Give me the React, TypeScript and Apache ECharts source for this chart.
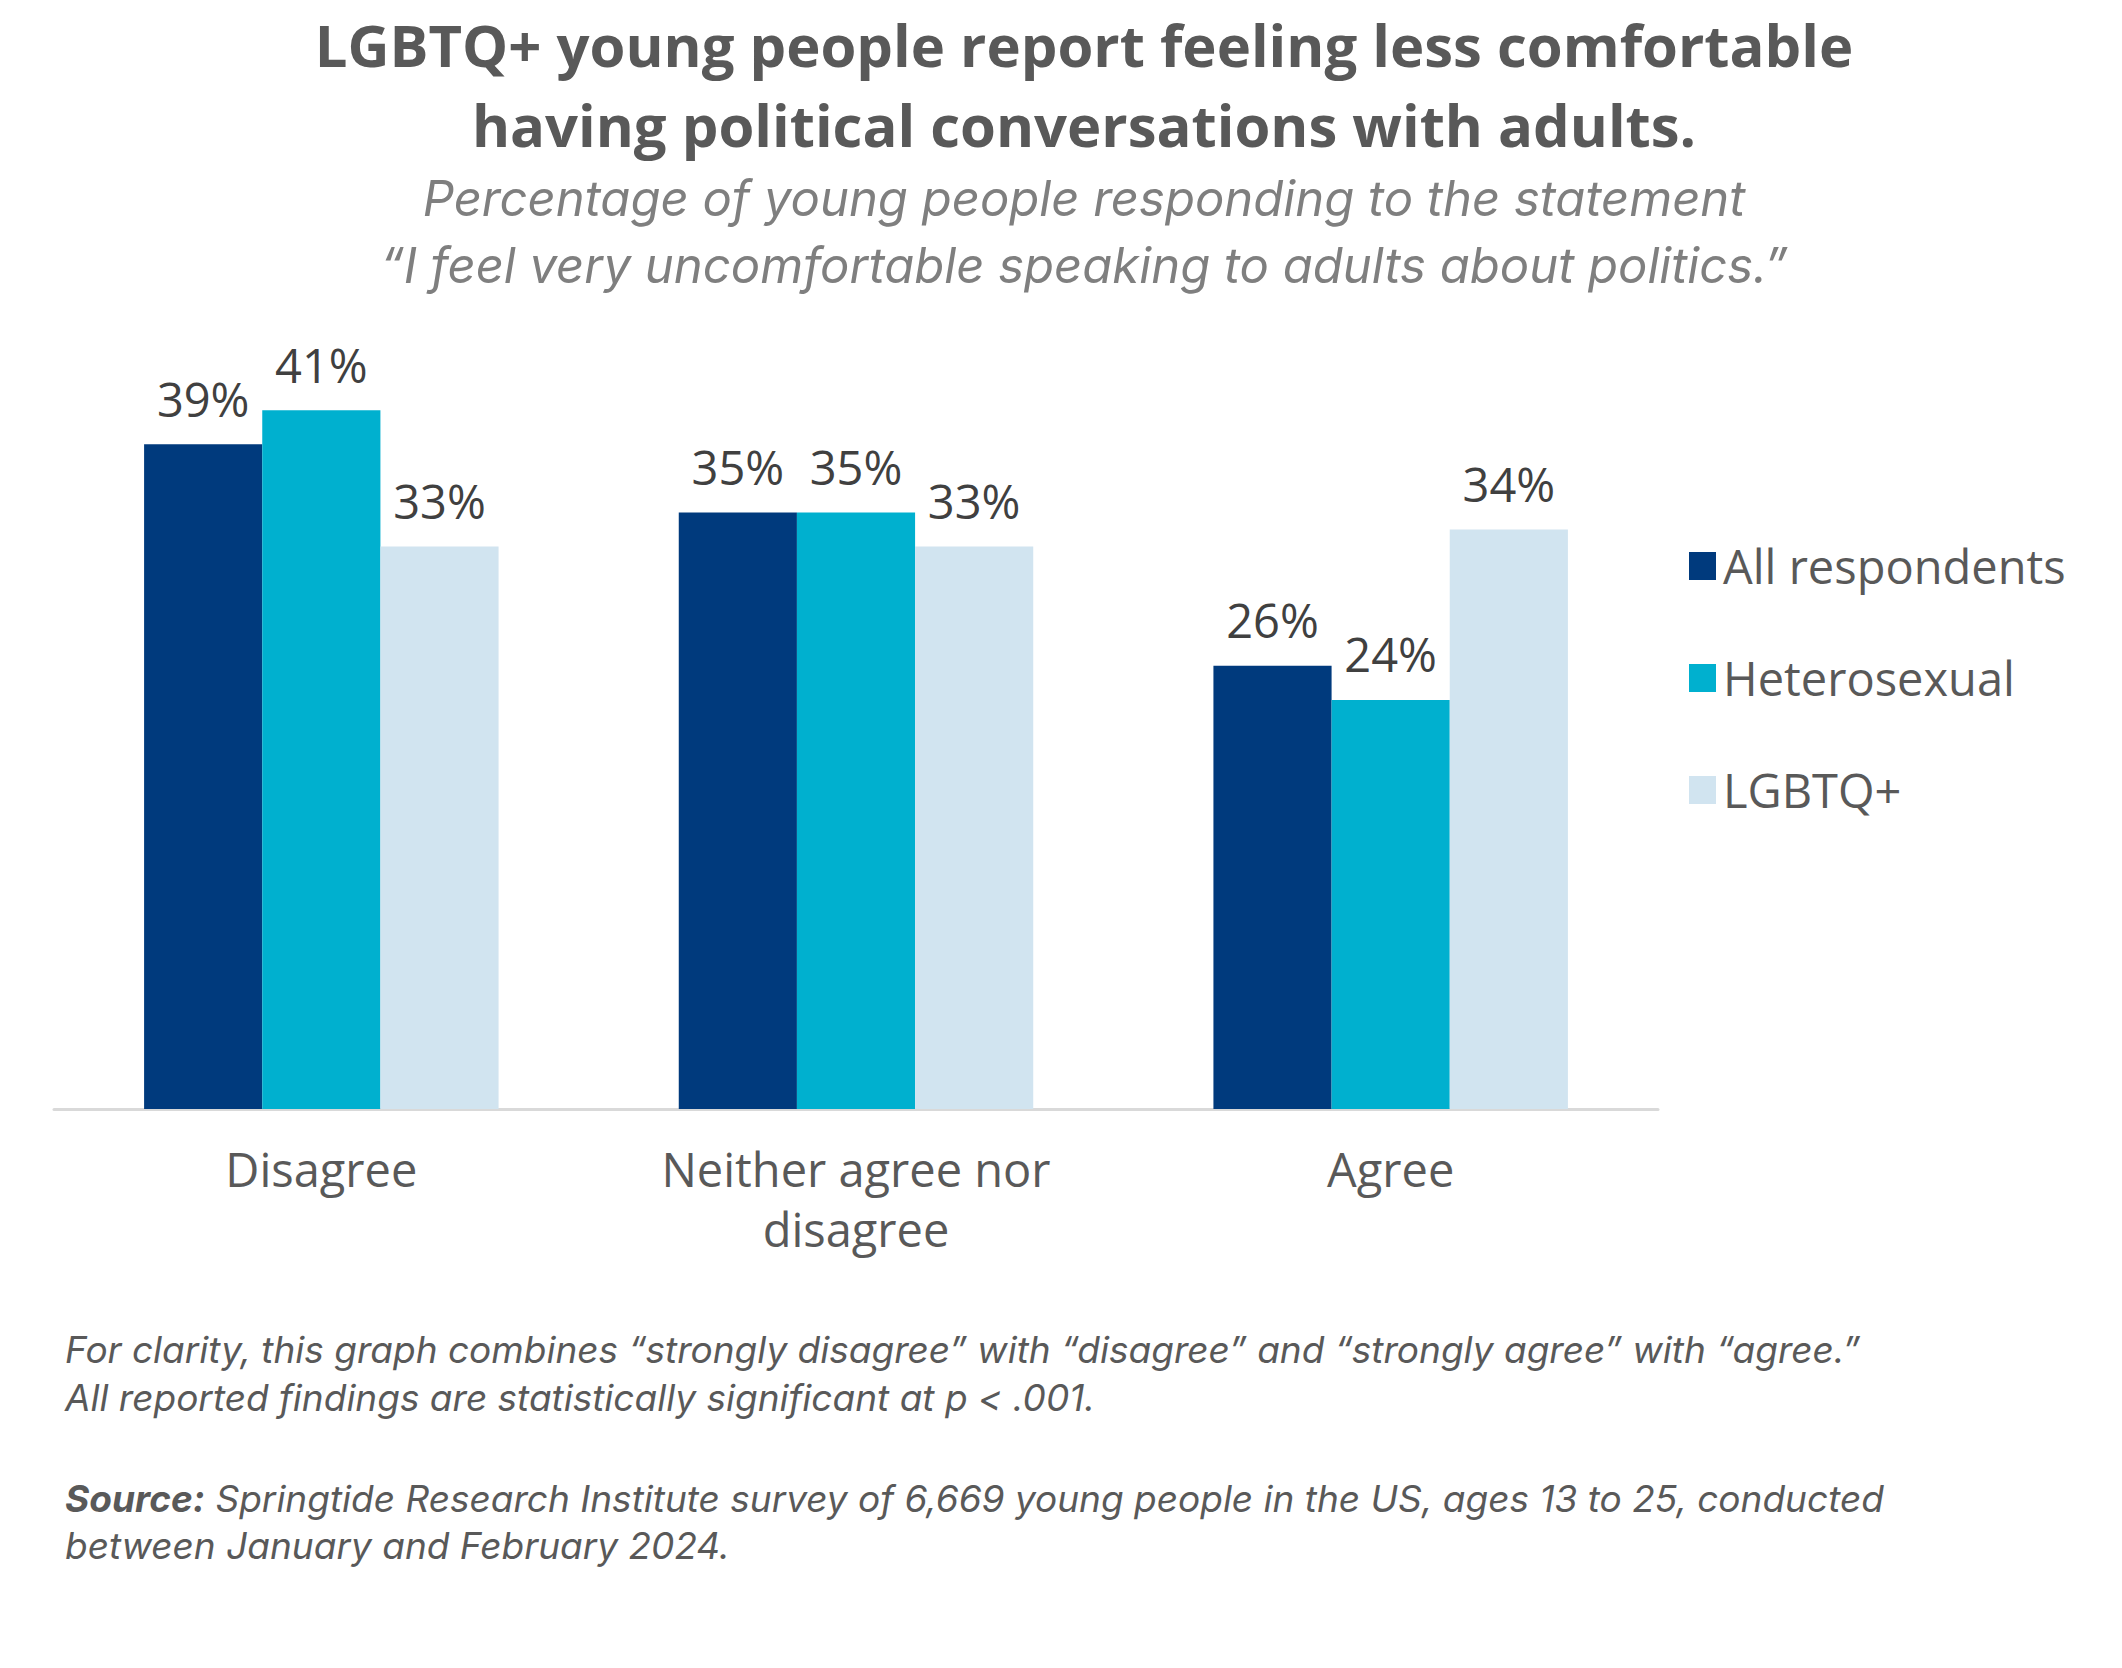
import React, { useEffect, useRef } from "react";
import * as echarts from "echarts";

const categories = ["Disagree", "Neither agree nor disagree", "Agree"];
const seriesNames = ["All respondents", "Heterosexual", "LGBTQ+"];
const allRespondents = [39, 35, 26];
const heterosexual = [41, 35, 24];
const lgbtq = [33, 33, 34];
const colors = ["#003A7D", "#00B0CF", "#D1E4F0"];

const titleLines = [
  "LGBTQ+ young people report feeling less comfortable",
  "having political conversations with adults.",
];
const subtitleLines = [
  "Percentage of young people responding to the statement",
  "\u201CI feel very uncomfortable speaking to adults about politics.\u201D",
];
const noteLines = [
  "For clarity, this graph combines \u201Cstrongly disagree\u201D with \u201Cdisagree\u201D and \u201Cstrongly agree\u201D with \u201Cagree.\u201D",
  "All reported findings are statistically significant at p < .001.",
];
const sourceLabel = "Source:";
const sourceLines = [
  " Springtide Research Institute survey of 6,669 young people in the US, ages 13 to 25, conducted",
  "between January and February 2024.",
];

const FONT = "'Open Sans', 'Noto Sans', sans-serif";
const IFONT = "Inter, 'Open Sans', sans-serif";

export default function App() {
  const ref = useRef<HTMLDivElement>(null);
  useEffect(() => {
    if (!ref.current) return;
    const chart = echarts.init(ref.current, undefined, { renderer: "svg" });
    const values = [allRespondents, heterosexual, lgbtq];
    const option: any = {
      animation: false,
      backgroundColor: "#ffffff",
      textStyle: { fontFamily: FONT },
      grid: { left: 54, right: 464, top: 342, bottom: 559, containLabel: false },
      legend: {
        orient: "vertical",
        left: 1684,
        top: 536,
        itemWidth: 27,
        itemHeight: 28,
        itemGap: 62,
        icon: "rect",
        data: seriesNames,
        textStyle: {
          fontFamily: FONT,
          fontSize: 47,
          color: "#595959",
          lineHeight: 50,
          padding: [0, 0, 0, 2],
        },
      },
      xAxis: {
        type: "category",
        data: categories,
        axisLine: { lineStyle: { color: "#D9D9D9", width: 3 } },
        axisTick: { show: false },
        axisLabel: {
          fontFamily: FONT,
          fontSize: 47,
          color: "#595959",
          lineHeight: 60,
          margin: 30,
          interval: 0,
          formatter: (v: string) => v.replace(" nor ", " nor\n"),
        },
      },
      yAxis: {
        type: "value",
        min: 0,
        max: 45,
        show: false,
        splitLine: { show: false },
      },
      series: seriesNames.map((name, i) => ({
        name,
        type: "bar",
        data: values[i],
        barWidth: "22.1%",
        barGap: "0%",
        barCategoryGap: "33.6%",
        itemStyle: { color: colors[i] },
        label: {
          show: true,
          position: "top",
          distance: 22,
          formatter: "{c}%",
          fontFamily: FONT,
          fontSize: 47,
          color: "#404040",
        },
      })),
      graphic: [
        ...titleLines.map((t, i) => ({
          type: "text",
          x: 1084,
          y: 44 + i * 80,
          style: {
            text: t,
            font: `bold 58px ${FONT}`,
            fill: "#595959",
            align: "center",
            verticalAlign: "middle",
          },
        })),
        ...subtitleLines.map((t, i) => ({
          type: "text",
          x: 1084,
          y: 198 + i * 67,
          style: {
            text: t,
            font: `italic 49px ${IFONT}`,
            fill: "#7F7F7F",
            align: "center",
            verticalAlign: "middle",
          },
        })),
        ...noteLines.map((t, i) => ({
          type: "text",
          x: 65,
          y: 1349 + i * 48,
          style: {
            text: t,
            font: `italic 37px ${IFONT}`,
            fill: "#595959",
            align: "left",
            verticalAlign: "middle",
          },
        })),
        {
          type: "text",
          x: 65,
          y: 1498,
          style: {
            text: `{b|${sourceLabel}}{n|${sourceLines[0]}}`,
            align: "left",
            verticalAlign: "middle",
            rich: {
              b: { font: `italic bold 37px ${IFONT}`, fill: "#595959" },
              n: { font: `italic 37px ${IFONT}`, fill: "#595959" },
            },
          },
        },
        {
          type: "text",
          x: 65,
          y: 1545,
          style: {
            text: sourceLines[1],
            font: `italic 37px ${IFONT}`,
            fill: "#595959",
            align: "left",
            verticalAlign: "middle",
          },
        },
      ],
    };
    chart.setOption(option);
    return () => chart.dispose();
  }, []);
  return (
    <div
      ref={ref}
      style={{ position: "fixed", left: 0, top: 0, width: 2122, height: 1668, background: "#fff" }}
    />
  );
}
